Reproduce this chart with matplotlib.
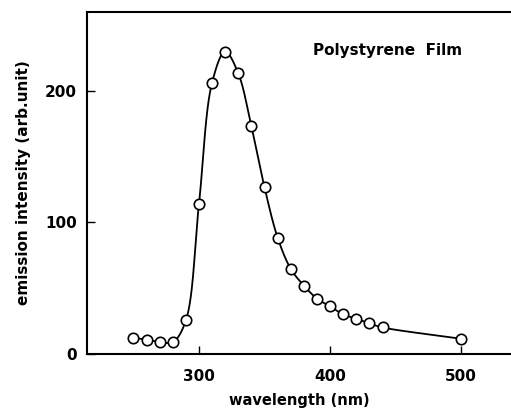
import numpy as np
import matplotlib
matplotlib.use('Agg')
import matplotlib.pyplot as plt

# datos
longitud_onda = [250, 260, 270, 280, 290, 300, 310, 320, 330, 340, 350,
                 360, 370, 380, 390, 400, 410, 420, 430, 440, 500]
intensidad = [12.4, 10.7, 9.2, 8.9, 25.4, 114, 206, 229.5, 213, 172.7, 126.5,
              88.3, 64.6, 51.9, 42, 36.1, 30, 26.7, 23.1, 20.1, 11.5]
ticks_x = [300, 400, 500]
ticks_y = [0, 100, 200]


def curva_suave(x, y, n=40):
    # Catmull-Rom centripeta, solo para dibujar la linea que une los puntos
    P = np.column_stack([x, y]).astype(float)
    P = np.vstack([2 * P[0] - P[1], P, 2 * P[-1] - P[-2]])
    salida = []
    for i in range(1, len(P) - 2):
        P0, P1, P2, P3 = P[i - 1], P[i], P[i + 1], P[i + 2]
        t0 = 0.0
        t1 = t0 + np.linalg.norm(P1 - P0) ** 0.5
        t2 = t1 + np.linalg.norm(P2 - P1) ** 0.5
        t3 = t2 + np.linalg.norm(P3 - P2) ** 0.5
        t = np.linspace(t1, t2, n)[:, None]
        A1 = (t1 - t) / (t1 - t0) * P0 + (t - t0) / (t1 - t0) * P1
        A2 = (t2 - t) / (t2 - t1) * P1 + (t - t1) / (t2 - t1) * P2
        A3 = (t3 - t) / (t3 - t2) * P2 + (t - t2) / (t3 - t2) * P3
        B1 = (t2 - t) / (t2 - t0) * A1 + (t - t0) / (t2 - t0) * A2
        B2 = (t3 - t) / (t3 - t1) * A2 + (t - t1) / (t3 - t1) * A3
        C = (t2 - t) / (t2 - t1) * B1 + (t - t1) / (t2 - t1) * B2
        salida.append(C)
    C = np.vstack(salida)
    return C[:, 0], C[:, 1]


plt.rcParams['font.family'] = ['DejaVu Sans']
plt.rcParams['font.weight'] = 'bold'

fig = plt.figure(figsize=(5.11, 4.12), dpi=100)
ax = fig.add_axes([0.170, 0.141, 0.83, 0.831])

xs, ys = curva_suave(longitud_onda, intensidad)
ax.plot(xs, ys, color='black', lw=1.3)
ax.plot(longitud_onda, intensidad, 'o', color='black', markerfacecolor='white',
        markersize=7.5, markeredgewidth=1.2)

ax.set_xlim(214.5, 538)
ax.set_ylim(0, 260)
ax.set_xticks(ticks_x)
ax.set_yticks(ticks_y)
ax.tick_params(direction='in', length=6, width=1, labelsize=11)
ax.tick_params(axis='x', pad=11)
ax.tick_params(axis='y', pad=7)
for s in ['left', 'bottom', 'top']:
    ax.spines[s].set_linewidth(1.5)
ax.spines['right'].set_visible(False)

ax.set_xlabel('wavelength (nm)', fontsize=10.5, fontweight='bold', labelpad=6)
ax.set_ylabel('emission intensity (arb.unit)', fontsize=11, fontweight='bold', labelpad=10)
ax.text(443.5, 230.5, 'Polystyrene  Film', fontsize=11, fontweight='bold',
        ha='center', va='center')

fig.savefig('out.png', dpi=100)
